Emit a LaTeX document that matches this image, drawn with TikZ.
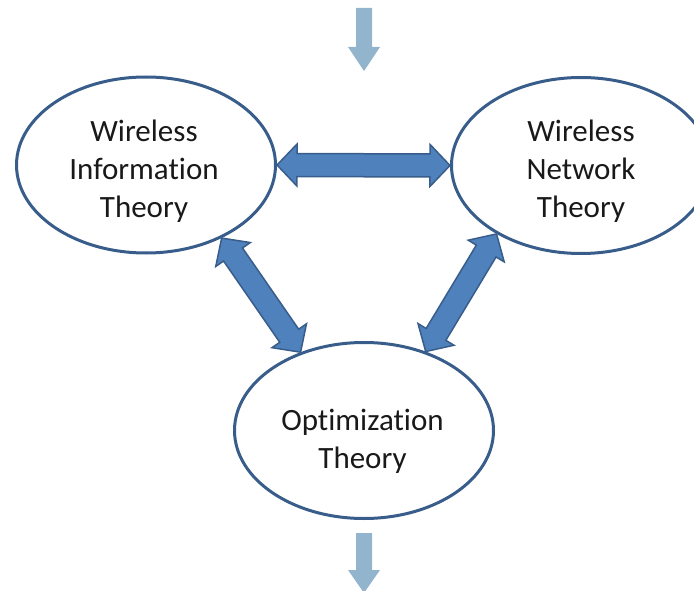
\documentclass[tikz,border=0pt]{standalone}
\usepackage{fontspec}
\setmainfont{Carlito}[Ligatures=NoCommon]
\usetikzlibrary{calc,shapes.geometric}
\definecolor{edgeblue}{RGB}{56,93,138}
\definecolor{fillblue}{RGB}{79,129,189}
\definecolor{paleblue}{RGB}{147,180,205}
\tikzset{
  theory/.style={ellipse, draw=edgeblue, line width=3pt, minimum width=259pt, minimum height=176pt, inner sep=0pt},
  lbl/.style={align=center, font=\fontsize{31}{38}\selectfont, text=black!90, inner sep=0pt},
  fatarrow/.style={fill=fillblue, draw=edgeblue, line width=1.5pt, line join=miter},
  palefill/.style={fill=paleblue},
}
\newcommand{\dblarrow}[2]{%
  \path ($(#1)!20pt!(#2)$) coordinate (dpa) ($(#2)!20pt!(#1)$) coordinate (dpb);
  \draw[fatarrow] (#1) -- ($(dpa)!21pt!90:(#2)$) -- ($(dpa)!11.5pt!90:(#2)$)
    -- ($(dpb)!11.5pt!-90:(#1)$) -- ($(dpb)!21pt!-90:(#1)$) -- (#2)
    -- ($(dpb)!21pt!90:(#1)$) -- ($(dpb)!11.5pt!90:(#1)$)
    -- ($(dpa)!11.5pt!-90:(#2)$) -- ($(dpa)!21pt!-90:(#2)$) -- cycle;}
\newcommand{\palearrowdraw}[3]{%
  \path ($(#2)!#3!(#1)$) coordinate (spq);
  \fill[palefill] ($(#1)!8pt!90:(#2)$) -- ($(spq)!8pt!90:(#2)$) -- ($(spq)!16pt!90:(#2)$)
    -- (#2) -- ($(spq)!16pt!-90:(#2)$) -- ($(spq)!8pt!-90:(#2)$) -- ($(#1)!8pt!-90:(#2)$) -- cycle;}
\begin{document}
\begin{tikzpicture}[x=1pt,y=-1pt]
\clip (0,0) rectangle (694,591);
\node[theory] (wit) at (146,165) {};
\node[theory] (wnt) at (581,165.5) {};
\node[theory] (opt) at (364,430.5) {};
\node[lbl] (witl) at (144,171.5) {Wireless\\Information\\Theory};
\node[lbl] (wntl) at (581,171.5) {Wireless\\Network\\Theory};
\node[lbl] (optl) at (362.5,441.5) {Optimization\\Theory};
\dblarrow{wit.east}{wnt.west}
\dblarrow{wit.-44}{opt.129}
\dblarrow{wnt.-141}{opt.52}
\coordinate (inS) at (364,8);
\coordinate (inE) at (364,71);
\coordinate (outS) at (364,533);
\coordinate (outE) at (364,593);
\palearrowdraw{inS}{inE}{24pt}
\palearrowdraw{outS}{outE}{23pt}
\end{tikzpicture}
\end{document}
